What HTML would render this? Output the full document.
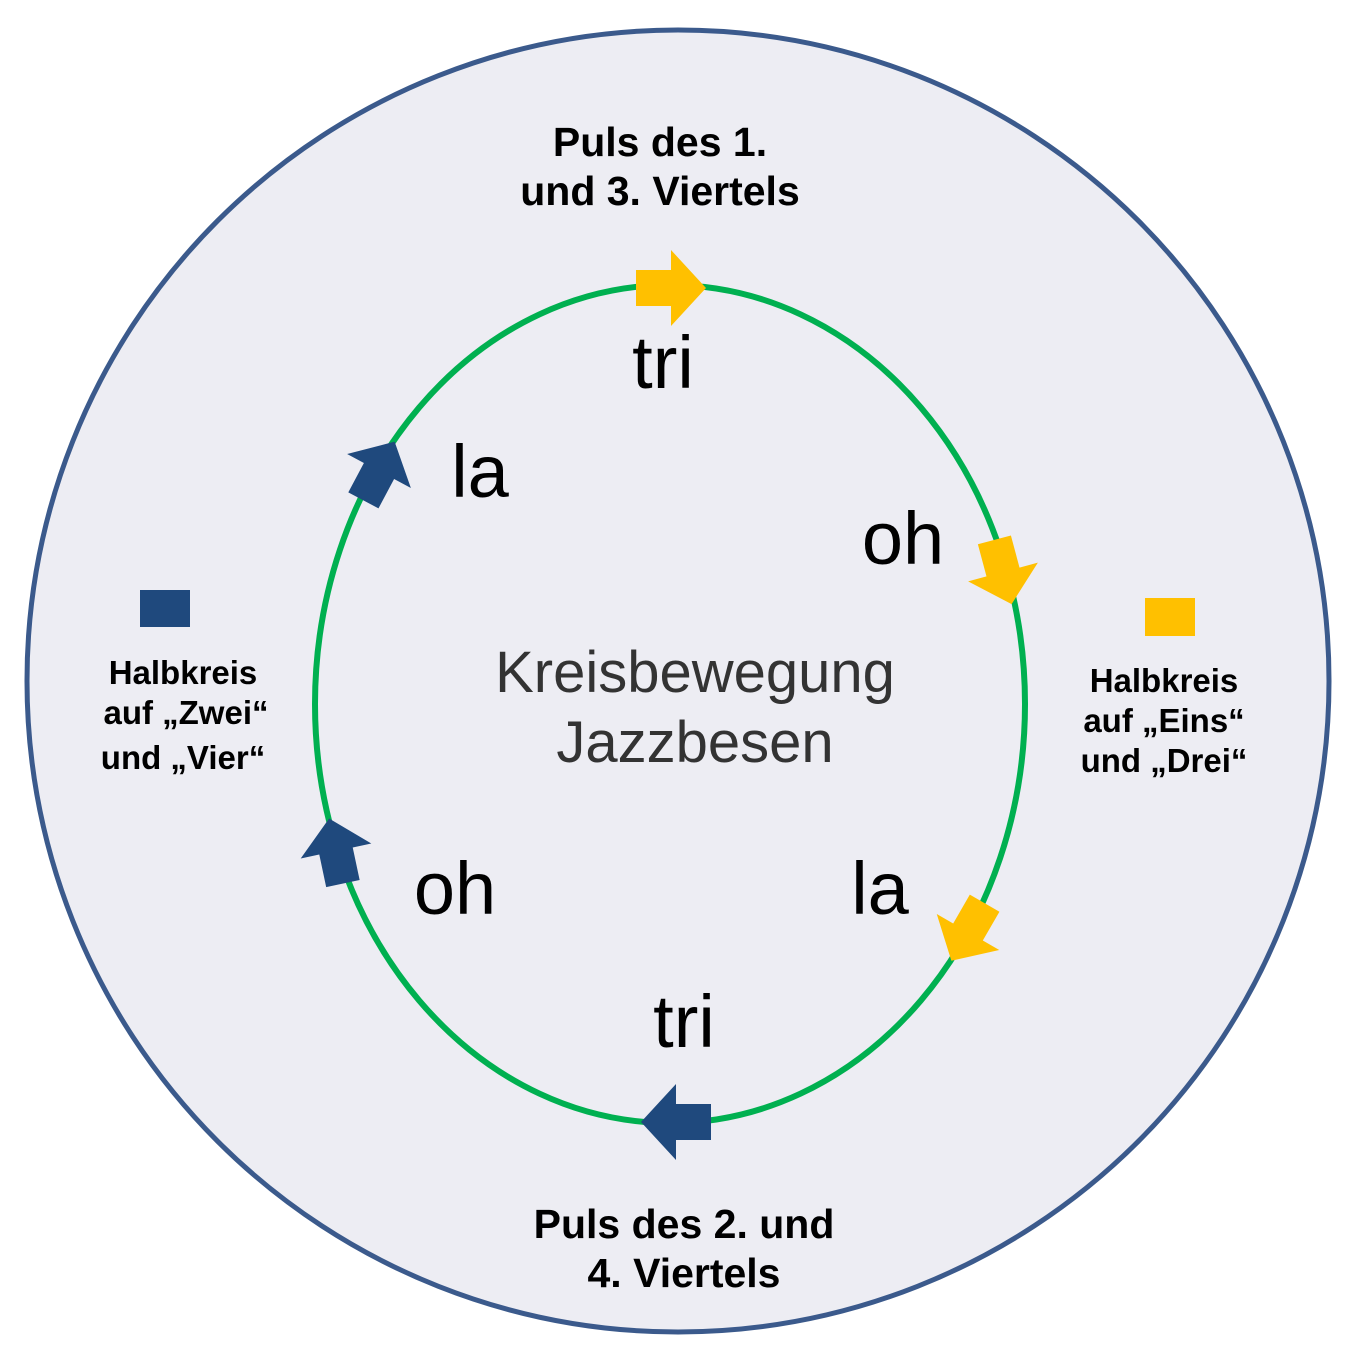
<!DOCTYPE html>
<html><head><meta charset="utf-8"><style>
html,body{margin:0;padding:0;background:#fff;}
svg{display:block;}
text{font-family:"Liberation Sans",Arial,sans-serif;}
</style></head><body>
<svg width="1364" height="1362" viewBox="0 0 1364 1362" xmlns="http://www.w3.org/2000/svg">
<defs>
<polygon id="arr" points="-35,-18 0,-18 0,-38 35,0 0,38 0,18 -35,18"/>
</defs>
<circle cx="678" cy="681" r="651" fill="#ededf3" stroke="#3b5a8c" stroke-width="5"/>
<ellipse cx="670" cy="704" rx="355" ry="419" fill="none" stroke="#00b050" stroke-width="6"/>
<use href="#arr" fill="#ffc000" transform="translate(671,288)"/>
<use href="#arr" fill="#ffc000" transform="translate(1003,572) rotate(75) scale(0.95)"/>
<use href="#arr" fill="#ffc000" transform="translate(968,932) rotate(120) scale(0.95)"/>
<use href="#arr" fill="#1f497d" transform="translate(676,1122) rotate(180)"/>
<use href="#arr" fill="#1f497d" transform="translate(336,851) rotate(-102) scale(0.95)"/>
<use href="#arr" fill="#1f497d" transform="translate(379,471) rotate(-62) scale(0.95)"/>
<rect x="140" y="590" width="50" height="37" fill="#1f497d"/>
<rect x="1145" y="598" width="50" height="38" fill="#ffc000"/>
<g font-weight="bold" font-size="41" fill="#000" text-anchor="middle">
<text x="660" y="156">Puls des 1.</text>
<text x="660" y="205">und 3. Viertels</text>
<text x="684" y="1238">Puls des 2. und</text>
<text x="684" y="1287">4. Viertels</text>
</g>
<g font-weight="bold" font-size="33" fill="#000" text-anchor="middle">
<text x="183" y="684">Halbkreis</text>
<text x="186" y="724">auf „Zwei“</text>
<text x="183" y="769">und „Vier“</text>
<text x="1164" y="692">Halbkreis</text>
<text x="1164" y="732">auf „Eins“</text>
<text x="1164" y="772">und „Drei“</text>
</g>
<g font-size="74" fill="#000" text-anchor="middle">
<text x="663" y="388">tri</text>
<text x="480" y="497">la</text>
<text x="903" y="564">oh</text>
<text x="880" y="914">la</text>
<text x="455" y="914">oh</text>
<text x="684" y="1047">tri</text>
</g>
<g font-size="58" fill="#333" text-anchor="middle">
<text x="695" y="692">Kreisbewegung</text>
<text x="695" y="762">Jazzbesen</text>
</g>
</svg>
</body></html>
